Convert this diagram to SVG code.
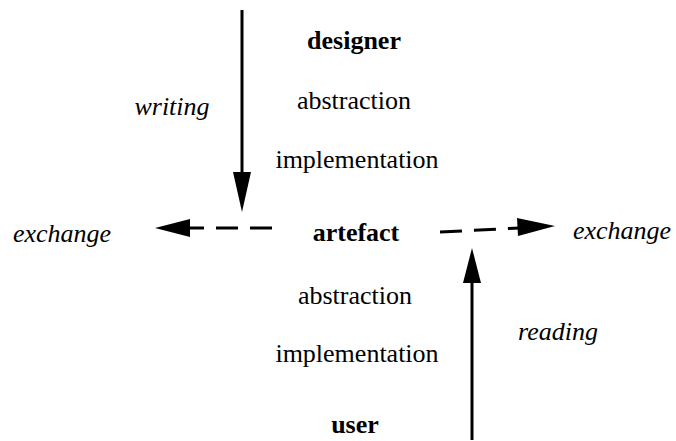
<svg xmlns="http://www.w3.org/2000/svg" width="676" height="441" viewBox="0 0 676 441">
<style>
text{font-family:"Liberation Serif","Times New Roman",serif;font-size:26px;fill:#000;text-anchor:middle}
.b{font-weight:bold}
.i{font-style:italic}
.ln{stroke:#000;stroke-width:3;fill:none}
.dash{stroke-dasharray:22,12}
.head{fill:#000;stroke:none}
</style>
<rect width="676" height="441" fill="#fff"/>
<g id="designer"><text class="b" x="354" y="49">designer</text></g>
<g id="abstraction1"><text x="354" y="109">abstraction</text></g>
<g id="implementation1"><text x="357" y="168">implementation</text></g>
<g id="artefact"><text class="b" x="356" y="241">artefact</text></g>
<g id="abstraction2"><text x="355" y="304">abstraction</text></g>
<g id="implementation2"><text x="357" y="362">implementation</text></g>
<g id="user"><text class="b" x="355" y="433">user</text></g>
<g id="writing"><text class="i" x="172" y="115">writing</text></g>
<g id="reading"><text class="i" x="558" y="340">reading</text></g>
<g id="exchange-left"><text class="i" x="62" y="242">exchange</text></g>
<g id="exchange-right"><text class="i" x="622" y="239">exchange</text></g>
<g id="connectors">
<line class="ln" x1="242" y1="10" x2="242" y2="175"/>
<polygon class="head" points="233,172 251,172 242,212"/>
<line class="ln dash" x1="272" y1="228" x2="186" y2="228"/>
<polygon class="head" points="190,219 190,237 155,228"/>
<line class="ln dash" x1="440" y1="232" x2="520" y2="228"/>
<polygon class="head" points="517,218 518,236 555,226"/>
<line class="ln" x1="472" y1="440" x2="472" y2="280"/>
<polygon class="head" points="463,283 481,283 472,248"/>
</g>
</svg>
